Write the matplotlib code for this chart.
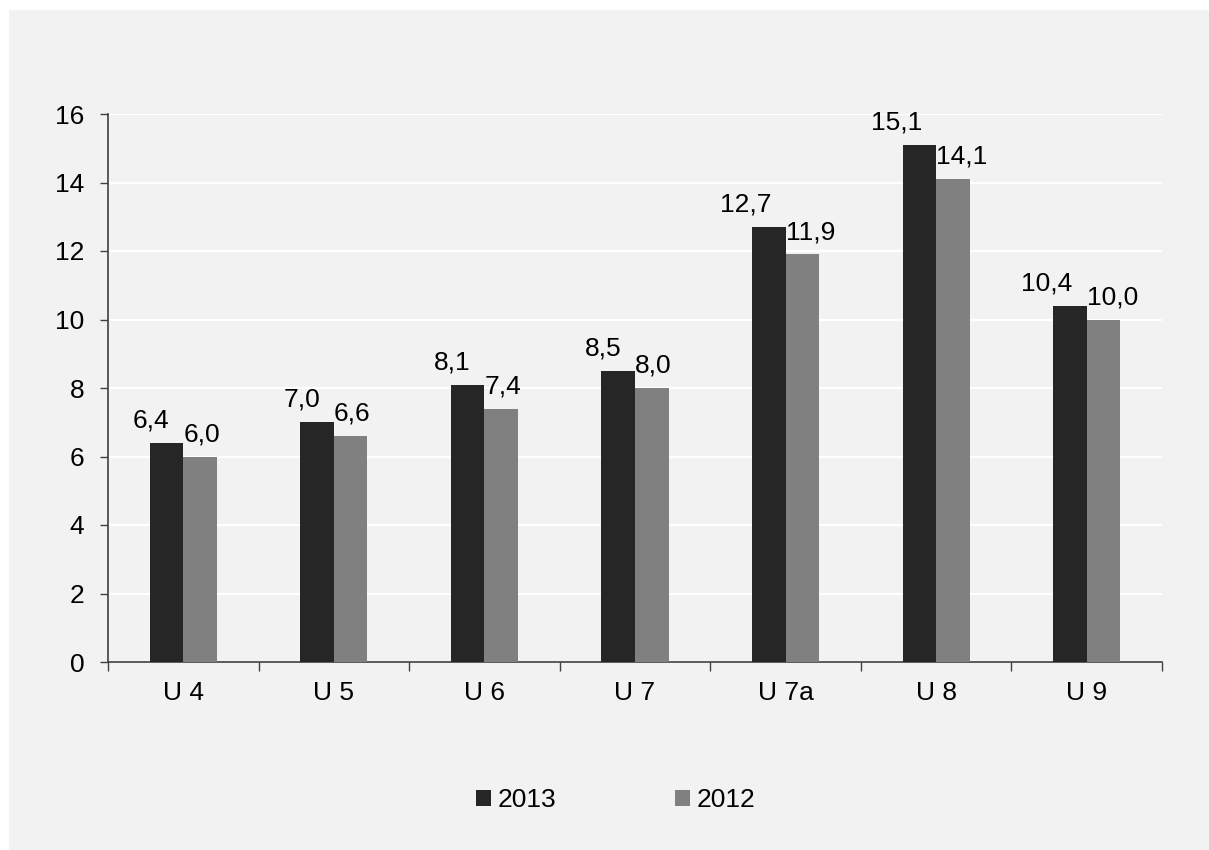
import matplotlib
matplotlib.use("Agg")
import matplotlib.pyplot as plt
from matplotlib.patches import Rectangle, Patch
import numpy as np

categories = ["U 4", "U 5", "U 6", "U 7", "U 7a", "U 8", "U 9"]
series_names = ["2013", "2012"]
values_2013 = [6.4, 7.0, 8.1, 8.5, 12.7, 15.1, 10.4]
values_2012 = [6.0, 6.6, 7.4, 8.0, 11.9, 14.1, 10.0]
y_ticks = [0, 2, 4, 6, 8, 10, 12, 14, 16]

plt.rcParams['font.family'] = ['Liberation Sans', 'DejaVu Sans']
FS = 19
DARK = '#262626'
LIGHT = '#808080'
BG = '#f2f2f2'
AX = '#404040'

W, H = 1209, 850
fig = plt.figure(figsize=(W / 100, H / 100), dpi=100, facecolor='white')
# grey panel
fig.patches.append(Rectangle((9 / W, 0), 1 - 9 / W, 1 - 10 / H, transform=fig.transFigure,
                             facecolor=BG, edgecolor='none', zorder=-10))

ax = fig.add_axes([108 / W, 1 - 662 / H, (1162 - 108) / W, (662 - 114) / H])
ax.set_facecolor('none')

x = np.arange(len(categories))
bw = 0.2225
b1 = ax.bar(x - bw / 2, values_2013, bw, color=DARK, zorder=3, label=series_names[0])
b2 = ax.bar(x + bw / 2, values_2012, bw, color=LIGHT, zorder=3, label=series_names[1])

ax.set_xlim(-0.5, len(categories) - 0.5)
ax.set_ylim(0, 16)
ax.set_yticks(y_ticks)
ax.set_yticklabels([str(t) for t in y_ticks], fontsize=FS)
ax.yaxis.grid(True, color='white', linewidth=1.6, zorder=0)
ax.set_axisbelow(True)

ax.set_xticks(np.arange(-0.5, len(categories), 1.0))
ax.set_xticklabels([])
ax.set_xticks(x, minor=True)
ax.set_xticklabels(categories, minor=True, fontsize=FS)
ax.tick_params(axis='x', which='minor', length=0, pad=14)
ax.tick_params(axis='x', which='major', length=6.5, width=1, color=AX, direction='out')
ax.tick_params(axis='y', length=6, width=1, color=AX, direction='out', pad=11)

for s in ['top', 'right']:
    ax.spines[s].set_visible(False)
for s in ['left', 'bottom']:
    ax.spines[s].set_color(AX)
    ax.spines[s].set_linewidth(1.2)

def fmt(v):
    return f"{v:.1f}".replace('.', ',')

for rect, v in zip(b1, values_2013):
    cx = rect.get_x() + rect.get_width() / 2
    ax.annotate(fmt(v), (cx, v), xytext=(2, 11), textcoords='offset points',
                ha='right', va='baseline', fontsize=FS, color='black')
for rect, v in zip(b2, values_2012):
    lx = rect.get_x()
    ax.annotate(fmt(v), (lx, v), xytext=(0, 11), textcoords='offset points',
                ha='left', va='baseline', fontsize=FS, color='black')

handles = [Patch(facecolor=DARK, edgecolor='none'), Patch(facecolor=LIGHT, edgecolor='none')]
fig.legend(handles, series_names, loc='center', bbox_to_anchor=(616 / W, 1 - 800 / H),
           ncol=2, frameon=False, fontsize=FS, handlelength=0.57, handleheight=0.57,
           handletextpad=0.25, columnspacing=4.5)

fig.savefig('out.png', dpi=100, facecolor='white')
